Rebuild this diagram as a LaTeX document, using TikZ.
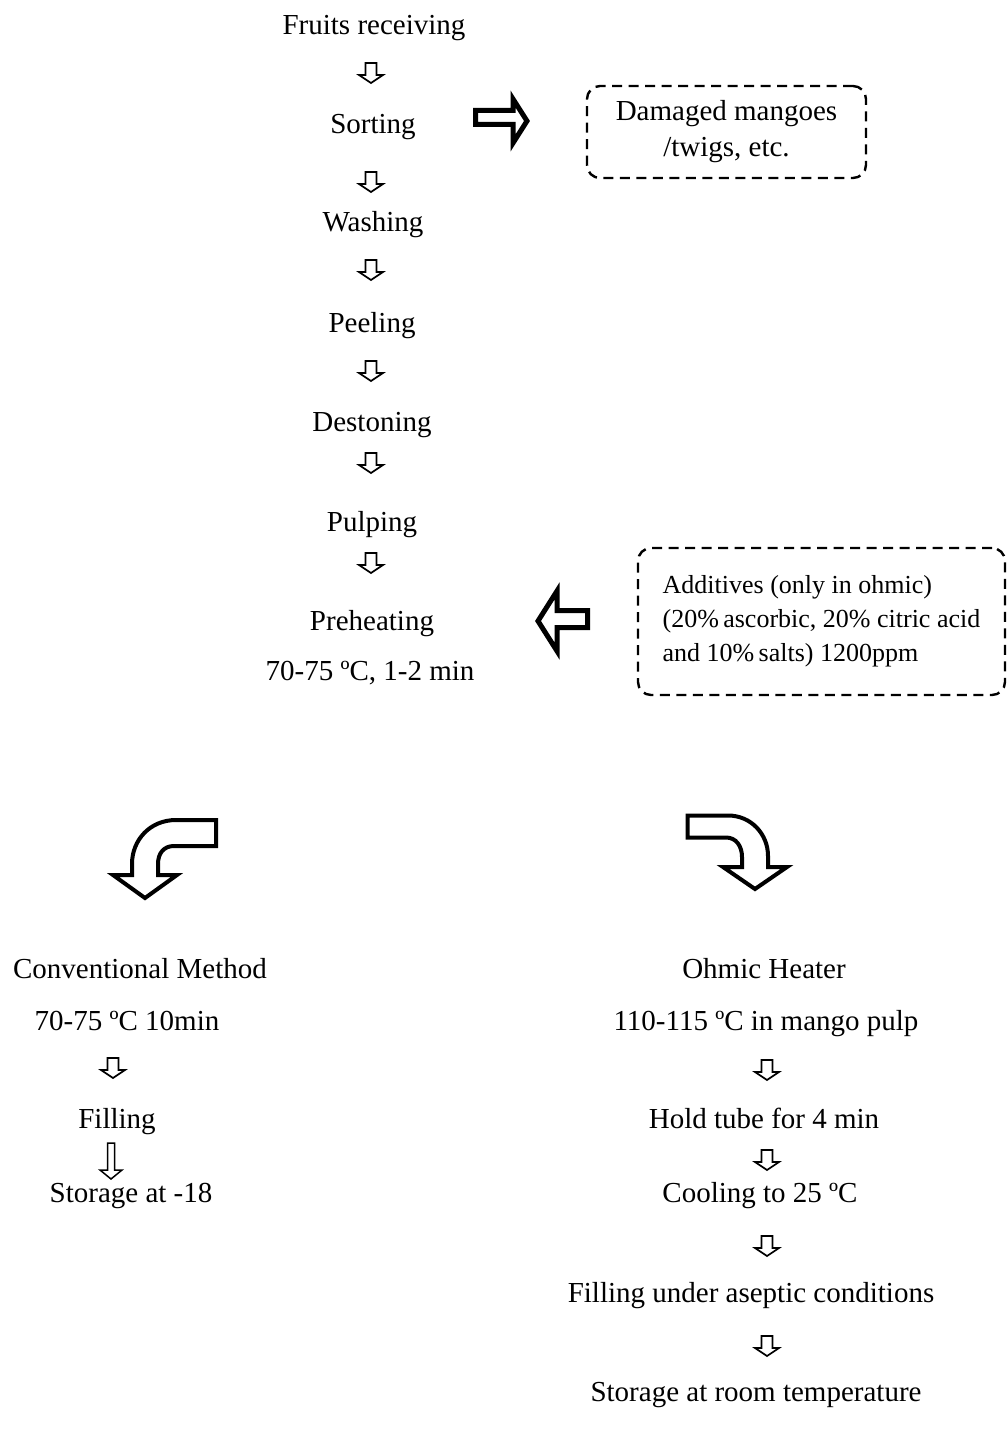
\documentclass[tikz,border=0pt]{standalone}
\usepackage{fontspec}
\setmainfont{Liberation Serif}

\tikzset{
  etapa/.style={font=\fontsize{29}{35}\selectfont, inner sep=0pt, text height=20pt, text depth=6pt},
  caixa/.style={draw, dash pattern=on 10pt off 6.5pt, line width=2.4pt, rounded corners=13pt},
  seta/.pic={\draw[line width=1.7pt, line join=miter] (-5.5,-10) -- (5.5,-10) -- (5.5,2) -- (12,2) -- (0,10) -- (-12,2) -- (-5.5,2) -- cycle;}
}

\begin{document}
\begin{tikzpicture}[x=1pt, y=-1pt]
    \useasboundingbox (0,0) rectangle (1008,1431);

    % Etapas iniciais do processamento.
    \node[etapa] (receb) at (374,28) {Fruits receiving};
    \node[etapa] (selecao) at (373,127) {Sorting};
    \node[etapa] (lavagem) at (373,225) {Washing};
    \node[etapa] (descasque) at (372,325) {Peeling};
    \node[etapa] (caroco) at (372,424) {Destoning};
    \node[etapa] (polpa) at (372,524) {Pulping};
    \node[etapa] (preaquec) at (372,623) {Preheating};
    \node[etapa] (preaqtemp) at (370,673) {70-75 ºC, 1-2 min};
    \foreach \y in {73,182,270,371,463,563} {
      \pic at (371,\y) {seta};
    }

    % Descarte e aditivos.
    \node[caixa, etapa, text height=, text depth=, minimum width=279pt, minimum height=92pt, align=center] (descarte) at (726.5,132) {Damaged mangoes\\[1pt]/twigs, etc.};
    \node[caixa, font=\fontsize{26}{34}\selectfont, minimum width=367pt, minimum height=147pt, align=left] (aditivos) at (821.5,621.5)
      {Additives (only in ohmic)\\(20\%\,ascorbic, 20\% citric acid\\and 10\%\,salts) 1200ppm};
    \draw[line width=5pt] (475.5,110.5) -- (513,110.5) -- (513,99) -- (527,121) -- (513,143) -- (513,124.5) -- (475.5,124.5) -- cycle;
    \draw[line width=5pt] (587.5,610.5) -- (557,610.5) -- (557,591) -- (538,621) -- (557,651) -- (557,627.5) -- (587.5,627.5) -- cycle;

    % Setas curvas para os dois metodos.
    \draw[line width=4pt] (216,820) -- (176,820) .. controls (150,820) and (132,840) .. (132,864) -- (132,875) -- (113,875)
      -- (145,898) -- (177,875) -- (158,875) -- (158,864) .. controls (158,853) and (164,846) .. (174,846) -- (216,846) -- cycle;
    \draw[line width=4pt] (687.5,815.5) -- (728,815.5) .. controls (751,815.5) and (768,834) .. (768,856) -- (768,867) -- (787,867)
      -- (755,889) -- (723,867) -- (742,867) -- (742,857) .. controls (742,846) and (736,837.5) .. (726,837.5) -- (687.5,837.5) -- cycle;

    % Metodo convencional.
    \node[etapa] (conv) at (140,971) {Conventional Method};
    \node[etapa] (convtemp) at (127,1023) {70-75 ºC 10min};
    \node[etapa] (envase) at (117,1121) {Filling};
    \node[etapa] (armaz) at (131,1195) {Storage at -18};
    \pic at (113,1068) {seta};
    \draw[line width=1.5pt, line join=miter] (107.5,1143) -- (114.5,1143) -- (114.5,1170) -- (122,1170) -- (111,1179) -- (100,1170) -- (107.5,1170) -- cycle;

    % Aquecimento ohmico.
    \node[etapa] (ohm) at (764,971) {Ohmic Heater};
    \node[etapa] (ohmtemp) at (766,1023) {110-115 ºC in mango pulp};
    \node[etapa] (tubo) at (764,1121) {Hold tube for 4 min};
    \node[etapa] (resfria) at (760,1195) {Cooling to 25 ºC};
    \node[etapa] (assep) at (751,1295) {Filling under aseptic conditions};
    \node[etapa] (ambiente) at (756,1394) {Storage at room temperature};
    \foreach \y in {1070,1160,1246,1346} {
      \pic at (767,\y) {seta};
    }
  \end{tikzpicture}
\end{document}
